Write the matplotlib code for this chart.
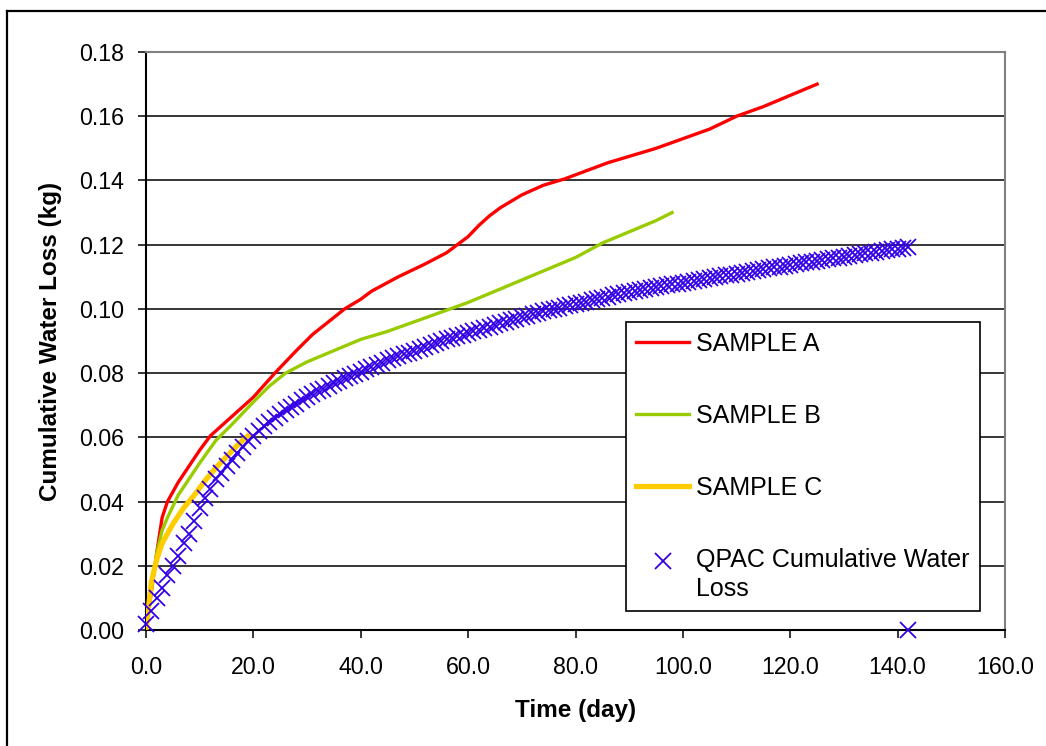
import matplotlib
matplotlib.use("Agg")
import matplotlib.pyplot as plt
from matplotlib.lines import Line2D
from matplotlib.legend_handler import HandlerLine2D

plt.rcParams['font.family'] = ['Liberation Sans', 'DejaVu Sans']

# ---------------- data ----------------
a_days = [0, 1, 2, 3, 4, 6, 8, 10, 12, 15, 20, 24, 28, 31, 34, 37, 40, 42, 47, 52, 56, 58,
          60, 62, 64, 66, 70, 74, 78, 82, 86, 90, 95, 100, 105, 110, 115, 120, 125]
a_loss = [0.0, 0.012, 0.024, 0.035, 0.040, 0.046, 0.051, 0.056, 0.0605, 0.065, 0.0725, 0.080,
          0.087, 0.092, 0.096, 0.100, 0.103, 0.1055, 0.110, 0.114, 0.1175, 0.120,
          0.1225, 0.126, 0.129, 0.1315, 0.1355, 0.1385, 0.1405, 0.143, 0.1455, 0.1475,
          0.150, 0.153, 0.156, 0.160, 0.163, 0.1665, 0.170]

b_days = [0, 1, 2, 3, 4, 6, 8, 10, 13, 16, 20, 23, 26, 30, 35, 40, 45, 50, 55, 60, 65, 70,
          75, 80, 85, 90, 95, 98]
b_loss = [0.0, 0.012, 0.024, 0.031, 0.035, 0.042, 0.047, 0.052, 0.059, 0.064, 0.071, 0.076,
          0.080, 0.0835, 0.087, 0.0905, 0.093, 0.096, 0.099, 0.102, 0.1055, 0.109,
          0.1125, 0.116, 0.1205, 0.124, 0.1275, 0.130]

c_days = [0, 1, 2, 3, 5, 7, 9, 11, 13, 15, 17, 19]
c_loss = [0.0, 0.015, 0.022, 0.027, 0.033, 0.038, 0.042, 0.0465, 0.0505, 0.054, 0.0575, 0.0605]

qpac_days = list(range(0, 143)) + [142]
qpac_loss = [
    0.002, 0.006, 0.010, 0.013, 0.017, 0.020, 0.023, 0.027, 0.030, 0.034,
    0.038, 0.041, 0.044, 0.047, 0.049, 0.051, 0.053, 0.055, 0.057, 0.059,
    0.0605, 0.0620, 0.0634, 0.0647, 0.0660, 0.0672, 0.0684, 0.0695, 0.0705, 0.0715,
    0.0725, 0.0734, 0.0743, 0.0752, 0.0760, 0.0768, 0.0776, 0.0784, 0.0791, 0.0798,
    0.0805, 0.0812, 0.0819, 0.0826, 0.0833, 0.0840, 0.0846, 0.0852, 0.0858, 0.0864,
    0.0870, 0.0876, 0.0882, 0.0888, 0.0894, 0.0900, 0.0905, 0.0910, 0.0915, 0.0920,
    0.0925, 0.0930, 0.0935, 0.0940, 0.0945, 0.0950, 0.0955, 0.0960, 0.0965, 0.0970,
    0.0975, 0.0979, 0.0984, 0.0988, 0.0993, 0.0997, 0.1001, 0.1004, 0.1008, 0.1011,
    0.1015, 0.1019, 0.1023, 0.1027, 0.1031, 0.1035, 0.1038, 0.1042, 0.1045, 0.1049,
    0.1052, 0.1055, 0.1058, 0.1062, 0.1065, 0.1068, 0.1071, 0.1074, 0.1077, 0.1079,
    0.1082, 0.1085, 0.1088, 0.1090, 0.1093, 0.1096, 0.1099, 0.1102, 0.1104, 0.1107,
    0.1110, 0.1113, 0.1116, 0.1118, 0.1121, 0.1124, 0.1127, 0.1129, 0.1132, 0.1134,
    0.1137, 0.1140, 0.1142, 0.1145, 0.1147, 0.1150, 0.1153, 0.1155, 0.1158, 0.1160,
    0.1163, 0.1165, 0.1168, 0.1170, 0.1173, 0.1175, 0.1177, 0.1180, 0.1182, 0.1185,
    0.1187, 0.1190, 0.1192,
    0.0,
]

x_ticks = [0, 20, 40, 60, 80, 100, 120, 140, 160]
y_ticks = [0.00, 0.02, 0.04, 0.06, 0.08, 0.10, 0.12, 0.14, 0.16, 0.18]

labels = ["SAMPLE A", "SAMPLE B", "SAMPLE C", "QPAC Cumulative Water\nLoss"]
colors = ["#FF0000", "#99CC00", "#FFCC00", "#3300E6"]

# ---------------- figure ----------------
W, H = 1046, 746
fig = plt.figure(figsize=(W / 100, H / 100), dpi=100)
L, R, T, B = 146, 1005, 52, 630
ax = fig.add_axes([L / W, (H - B) / H, (R - L) / W, (B - T) / H])

ax.plot(a_days, a_loss, color=colors[0], lw=2.4, label=labels[0], zorder=3)
ax.plot(b_days, b_loss, color=colors[1], lw=2.4, label=labels[1], zorder=3)
ax.plot(c_days, c_loss, color=colors[2], lw=3.8, label=labels[2], zorder=3)
ax.plot(qpac_days, qpac_loss, linestyle='none', marker='x', markersize=11,
        markeredgewidth=1.3, color=colors[3], label=labels[3], zorder=4, clip_on=False)

ax.set_xlim(0, 160)
ax.set_ylim(0, 0.18)
ax.set_xticks(x_ticks)
ax.set_yticks(y_ticks)
ax.set_xticklabels([f"{v:.1f}" for v in x_ticks])
ax.set_yticklabels([f"{v:.2f}" for v in y_ticks])
ax.tick_params(axis='both', direction='out', length=6, width=1.1, color='black',
               labelsize=16.7)
ax.tick_params(axis='x', pad=13)
ax.tick_params(axis='y', pad=10)

ax.set_axisbelow(True)
ax.yaxis.grid(True, color='black', lw=1.1)
ax.xaxis.grid(False)

for s in ['left', 'bottom']:
    ax.spines[s].set_color('black')
    ax.spines[s].set_linewidth(1.5)
for s in ['top', 'right']:
    ax.spines[s].set_color('#808080')
    ax.spines[s].set_linewidth(1.5)

ax.set_xlabel("Time (day)", fontsize=17.5, fontweight='bold')
ax.xaxis.label.set_va('center')
ax.xaxis.set_label_coords(0.5, (B - 710.5) / (B - T))
ax.set_ylabel("Cumulative Water Loss (kg)", fontsize=17.5, fontweight='bold')
ax.yaxis.label.set_va('center')
ax.yaxis.set_label_coords((50.5 - L) / (R - L), 0.5)


class ShiftedHandler(HandlerLine2D):
    def __init__(self, dy=0.0, **kw):
        super().__init__(**kw)
        self.dy = dy

    def create_artists(self, legend, orig_handle, xdescent, ydescent, width, height,
                       fontsize, trans):
        arts = super().create_artists(legend, orig_handle, xdescent, ydescent, width,
                                      height, fontsize, trans)
        for a in arts:
            a.set_ydata([y + self.dy for y in a.get_ydata()])
        return arts


handles, hl = ax.get_legend_handles_labels()
qh = handles[3]
leg = ax.legend(handles, hl, loc='upper left',
                bbox_to_anchor=((626 - L) / (R - L), (B - 322) / (B - T)),
                borderaxespad=0, fontsize=18, frameon=True, fancybox=False,
                framealpha=1, edgecolor='black', handlelength=2.12,
                handletextpad=0.28, borderpad=0.4, labelspacing=1.92,
                numpoints=1, handler_map={qh: ShiftedHandler(dy=10.5)})
leg.get_frame().set_linewidth(1.2)
leg.get_texts()[3].set_linespacing(1.28)

# outer chart border (only top/left visible in the crop)
fig.add_artist(Line2D([7 / W, 7 / W], [0, 1 - 11 / H], color='black', lw=1.6,
                      transform=fig.transFigure))
fig.add_artist(Line2D([7 / W, 1], [1 - 11 / H, 1 - 11 / H], color='black', lw=1.6,
                      transform=fig.transFigure))

fig.savefig("out.png", dpi=100, facecolor='white')
